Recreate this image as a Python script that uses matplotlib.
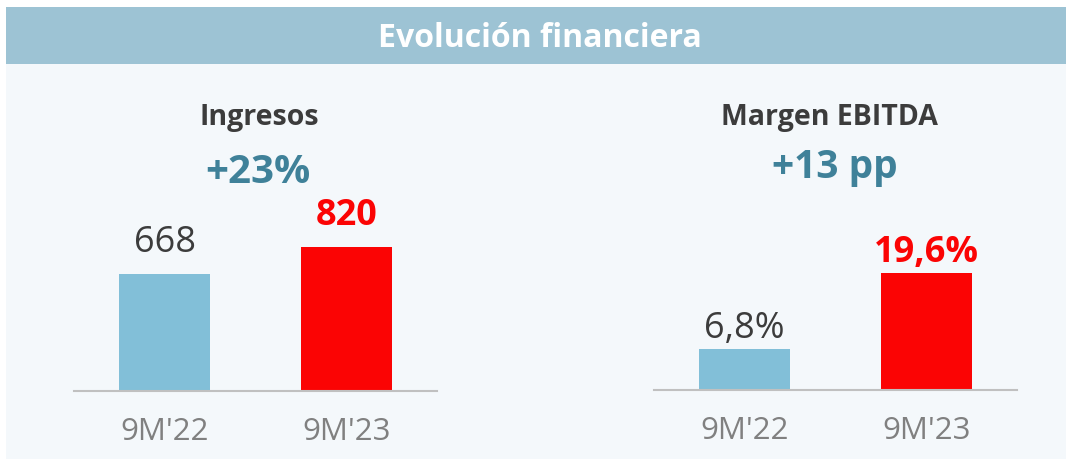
import matplotlib.pyplot as plt
from matplotlib.patches import Rectangle

plt.rcParams['font.family'] = ['Open Sans', 'DejaVu Sans']

# ========== DATOS ==========
titulo = "Evolución financiera"
periodos = ["9M'22", "9M'23"]

ingresos = [668, 820]
ingresos_txt = ["668", "820"]
ingresos_var = "+23%"

margen = [6.8, 19.6]
margen_txt = ["6,8%", "19,6%"]
margen_var = "+13 pp"
# ===========================

W, H = 1066, 459
fondo = '#f4f8fb'
banda = '#9dc3d4'
azul = '#82bfd8'
rojo = '#fb0404'
gris = '#808080'
oscuro = '#3c3c3c'
teal = '#3f8199'


def fx(px):
    return px / W


def fy(py):
    # py medido desde arriba
    return 1 - py / H


fig = plt.figure(figsize=(W / 100, H / 100), dpi=100)
fig.patch.set_facecolor('white')

# panel de fondo y banda de título
fig.patches.append(Rectangle((fx(6), fy(459)), fx(1060), 452 / H, transform=fig.transFigure,
                             facecolor=fondo, edgecolor='none', zorder=-2))
fig.patches.append(Rectangle((fx(6), fy(64)), fx(1060), 57 / H, transform=fig.transFigure,
                             facecolor=banda, edgecolor='none', zorder=-1))
fig.text(fx(540), fy(47), titulo, color='white', fontsize=23, fontweight='bold',
         ha='center', va='baseline')


def panel(x0, base, valores, textos, escala, nombre, var, x_nombre, x_var, y_var, gap, fs_var):
    ancho = 363
    alto = base - 70
    ax = fig.add_axes([fx(x0), fy(base), fx(ancho), alto / H])
    ax.set_facecolor('none')
    ax.bar([0, 1], valores, width=0.5, color=[azul, rojo])
    ax.set_xlim(-0.5, 1.5)
    ax.set_ylim(0, alto / escala)
    for s in ['top', 'right', 'left']:
        ax.spines[s].set_visible(False)
    ax.spines['bottom'].set_color('#c0c0c0')
    ax.spines['bottom'].set_linewidth(1.5)
    ax.set_yticks([])
    ax.set_xticks([0, 1])
    ax.set_xticklabels(periodos, fontsize=22.5, color=gris)
    ax.tick_params(axis='x', length=0, pad=19)
    for i, (v, t) in enumerate(zip(valores, textos)):
        ax.annotate(t, (i, v), xytext=(0, gap), textcoords='offset pixels',
                    ha='center', va='baseline', fontsize=26,
                    color=oscuro if i == 0 else rojo,
                    fontweight='normal' if i == 0 else 'bold')
    fig.text(fx(x_nombre), fy(125), nombre, color=oscuro, fontsize=20.5, fontweight='bold',
             ha='center', va='baseline')
    fig.text(fx(x_var), fy(y_var), var, color=teal, fontsize=fs_var, fontweight='bold',
             ha='center', va='baseline')
    return ax


panel(74, 391, ingresos, ingresos_txt, 144 / 820, "Ingresos", ingresos_var, 259, 258, 183, 22, 29)
panel(654, 390, margen, margen_txt, 117 / 19.6, "Margen EBITDA", margen_var, 829, 835, 178, 11, 28)

fig.savefig('out.png', dpi=100, facecolor=fig.get_facecolor())
